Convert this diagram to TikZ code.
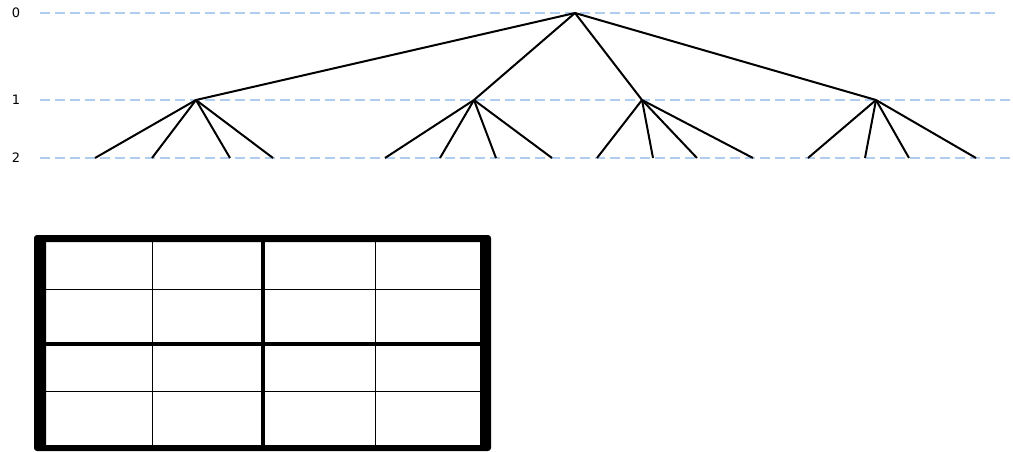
\documentclass[tikz,border=0pt]{standalone}
\usepackage{fontspec}
\setmainfont{DejaVu Sans}
\definecolor{guide}{HTML}{B0CDF0}
\begin{document}
\begin{tikzpicture}[x=1pt,y=-1pt,
  levellabel/.style={font=\fontsize{13}{15}\selectfont, inner sep=0pt, anchor=center},
  guideline/.style={guide, line width=1.2pt, dash pattern=on 10pt off 5pt},
  branch/.style={black, line width=2pt},
  thin/.style={black, line width=1pt},
  thick/.style={black, line width=4.5pt}]
\useasboundingbox (0,0) rectangle (1013,452);
% level labels
\node[levellabel] (l0) at (16,13) {0};
\node[levellabel] (l1) at (16,100) {1};
\node[levellabel] (l2) at (16,158) {2};
% guide lines
\coordinate (g0a) at (40,13);  \coordinate (g0b) at (995,13);
\coordinate (g1a) at (40,100); \coordinate (g1b) at (1010,100);
\coordinate (g2a) at (40,158); \coordinate (g2b) at (1010,158);
\draw[guideline] (g0a) -- (g0b);
\draw[guideline] (g1a) -- (g1b);
\draw[guideline] (g2a) -- (g2b);
% tree nodes
\coordinate (r) at (575,13);
\coordinate (a) at (196,100);
\coordinate (b) at (474,100);
\coordinate (c) at (642,100);
\coordinate (d) at (876,100);
\foreach \n/\x in {a1/95,a2/152,a3/230,a4/273,
                   b1/385,b2/440,b3/496,b4/552,
                   c1/597,c2/653,c3/697,c4/753,
                   d1/808,d2/865,d3/909,d4/976}
  \coordinate (\n) at (\x,158);
\foreach \p in {a,b,c,d}
  \draw[branch] (r) -- (\p);
\foreach \p in {a,b,c,d}
  \foreach \i in {1,2,3,4}
    \draw[branch] (\p) -- (\p\i);
% grid
\draw[thin] (152.5,242) -- (152.5,445);
\draw[thin] (375,242) -- (375,445);
\draw[thin] (46,289) -- (480,289);
\draw[thin] (46,391) -- (480,391);
\draw[thick] (263,242) -- (263,445);
\draw[thick] (46,344) -- (480,344);
\fill[black, even odd rule, rounded corners=3pt] (34,235) rectangle (491,451)
  [sharp corners] (46,242) rectangle (480,445);
\end{tikzpicture}
\end{document}
